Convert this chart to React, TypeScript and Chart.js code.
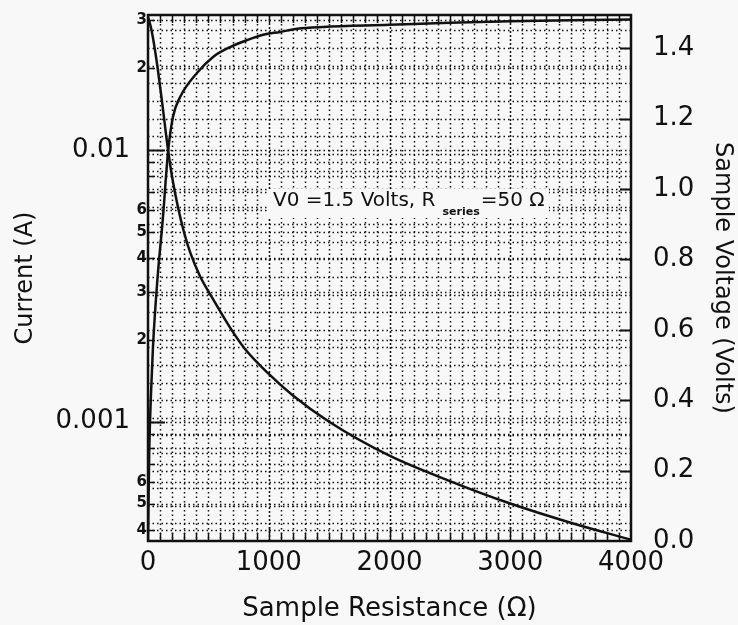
import { useEffect, useRef } from "react";
import { Chart, registerables } from "chart.js";

Chart.register(...registerables);

const FONT = "'DejaVu Sans', sans-serif";
const INK = "#111";
const PAPER = "#f8f8f8";

// Current through the sample (A) versus sample resistance (Ω)
const currentR = [0, 30, 70, 115, 166, 200, 250, 300, 350, 430, 540, 680, 800, 1000, 1200, 1500, 2000, 2500, 3000, 3500, 4000];
const currentA = [0.031, 0.0275, 0.0215, 0.0152, 0.01, 0.00794, 0.0061, 0.00495, 0.00419, 0.00344, 0.00282, 0.00222, 0.00186, 0.0015, 0.00125, 0.001, 0.00075, 0.000605, 0.0005, 0.000425, 0.000368];

// Voltage across the sample (V) versus sample resistance (Ω)
const voltageR = [0, 10, 25, 41, 75, 124, 166, 207, 266, 407, 539, 680, 822, 954, 1095, 1237, 1452, 2000, 2500, 3000, 3500, 4000];
const voltageV = [0, 0.25, 0.42, 0.55, 0.73, 0.92, 1.105, 1.205, 1.261, 1.33, 1.375, 1.403, 1.423, 1.438, 1.446, 1.455, 1.46, 1.466, 1.472, 1.476, 1.479, 1.481];

// Axis ticks
const resistanceTicks = [0, 1000, 2000, 3000, 4000];
const currentMajorTicks = [0.001, 0.01];
const currentMinorTicks = [0.0004, 0.0005, 0.0006, 0.002, 0.003, 0.004, 0.005, 0.006, 0.02, 0.03];
const voltageTicks = [0, 0.2, 0.4, 0.6, 0.8, 1.0, 1.2, 1.4];

const R_MAX = 4000;
const CURRENT_MIN = 0.000364;
const CURRENT_MAX = 0.0314;
const VOLT_MAX = 1.494;

const logSteps = (): number[] => {
  const out: number[] = [];
  for (let e = -4; e <= -2; e++) {
    for (let m = 1; m <= 9; m++) {
      const v = m * Math.pow(10, e);
      if (v > CURRENT_MIN && v < CURRENT_MAX) out.push(v);
    }
  }
  return out;
};

const paperPlugin = {
  id: "paper",
  beforeDraw(chart: any) {
    const { ctx, width, height } = chart;
    ctx.save();
    ctx.fillStyle = PAPER;
    ctx.fillRect(0, 0, width, height);
    ctx.restore();
  },
  beforeDatasetsDraw(chart: any) {
    const { ctx, chartArea, scales } = chart;
    const { left, right, top, bottom } = chartArea;
    const x = scales.x;
    const y = scales.y;
    const y2 = scales.y2;
    ctx.save();
    ctx.strokeStyle = INK;
    ctx.lineWidth = 1.5;

    // dotted vertical rulings every 100 Ω
    for (let r = 100; r < R_MAX; r += 100) {
      const px = Math.round(x.getPixelForValue(r)) + 0.5;
      ctx.setLineDash(r % 1000 === 0 ? [2, 2] : [1.5, 3]);
      ctx.beginPath();
      ctx.moveTo(px, top);
      ctx.lineTo(px, bottom);
      ctx.stroke();
    }

    // dotted horizontal rulings from both vertical scales
    const rows: number[] = [];
    logSteps().forEach((v) => rows.push(y.getPixelForValue(v)));
    for (let v = 0.05; v < VOLT_MAX; v += 0.05) rows.push(y2.getPixelForValue(v));
    ctx.setLineDash([1.5, 3]);
    rows.forEach((py) => {
      const p = Math.round(py) + 0.5;
      ctx.beginPath();
      ctx.moveTo(left, p);
      ctx.lineTo(right, p);
      ctx.stroke();
    });
    ctx.setLineDash([]);

    // note about the source conditions, on a clear patch
    ctx.fillStyle = PAPER;
    ctx.fillRect(268, 189, 281, 29);
    ctx.fillStyle = INK;
    ctx.textBaseline = "middle";
    ctx.textAlign = "left";
    ctx.font = `20px ${FONT}`;
    let tx = 273;
    const main1 = "V0 =1.5 Volts, R";
    ctx.fillText(main1, tx, 201);
    tx += ctx.measureText(main1).width + 7;
    ctx.font = `bold 11px ${FONT}`;
    const sub = "series";
    ctx.fillText(sub, tx, 212);
    tx += ctx.measureText(sub).width + 1;
    ctx.font = `20px ${FONT}`;
    ctx.fillText("=50 Ω", tx, 201);
    ctx.restore();
  },
  afterDatasetsDraw(chart: any) {
    const { ctx, chartArea, scales } = chart;
    const { left, right, top, bottom } = chartArea;
    const x = scales.x;
    const y = scales.y;
    const y2 = scales.y2;
    ctx.save();
    ctx.strokeStyle = INK;
    ctx.setLineDash([]);

    // inward tick marks along the resistance axis (bottom and top)
    ctx.lineWidth = 1.5;
    for (let r = 100; r < R_MAX; r += 100) {
      const px = Math.round(x.getPixelForValue(r)) + 0.5;
      const len = r % 1000 === 0 ? 14 : 8;
      ctx.beginPath();
      ctx.moveTo(px, bottom);
      ctx.lineTo(px, bottom - len);
      ctx.moveTo(px, top);
      ctx.lineTo(px, top + 8);
      ctx.stroke();
    }

    // current axis ticks
    logSteps().forEach((v) => {
      const py = Math.round(y.getPixelForValue(v)) + 0.5;
      const major = currentMajorTicks.some((m) => Math.abs(m - v) / m < 1e-6);
      ctx.lineWidth = major ? 2 : 1.5;
      ctx.beginPath();
      ctx.moveTo(left, py);
      ctx.lineTo(left + (major ? 17 : 7), py);
      ctx.stroke();
    });

    // voltage axis ticks
    ctx.lineWidth = 2;
    voltageTicks.forEach((v) => {
      if (v <= 0) return;
      const py = Math.round(y2.getPixelForValue(v)) + 0.5;
      ctx.beginPath();
      ctx.moveTo(right, py);
      ctx.lineTo(right - 11, py);
      ctx.stroke();
    });

    // frame
    ctx.lineWidth = 2.5;
    ctx.strokeRect(left, top, right - left, bottom - top);
    ctx.restore();
  },
};

const zeroPadding = (s: any) => {
  s.paddingTop = 0;
  s.paddingBottom = 0;
  s.paddingLeft = 0;
  s.paddingRight = 0;
};

export default function App() {
  const ref = useRef<HTMLCanvasElement>(null);

  useEffect(() => {
    document.body.style.margin = "0";
    document.body.style.background = PAPER;
    const canvas = ref.current;
    if (!canvas) return;

    const chart = new Chart(canvas, {
      type: "line",
      data: {
        datasets: [
          {
            label: "Current (A)",
            data: currentR.map((r, i) => ({ x: r, y: currentA[i] })),
            xAxisID: "x",
            yAxisID: "y",
            borderColor: INK,
            borderWidth: 2.5,
            pointRadius: 0,
            fill: false,
            cubicInterpolationMode: "monotone",
          },
          {
            label: "Sample Voltage (Volts)",
            data: voltageR.map((r, i) => ({ x: r, y: voltageV[i] })),
            xAxisID: "x",
            yAxisID: "y2",
            borderColor: INK,
            borderWidth: 2.5,
            pointRadius: 0,
            fill: false,
            cubicInterpolationMode: "monotone",
          },
        ],
      },
      options: {
        responsive: false,
        animation: false,
        devicePixelRatio: 1,
        layout: { padding: { top: 15, left: 0, right: 0, bottom: 0 } },
        plugins: {
          legend: { display: false },
          tooltip: { enabled: false },
        },
        scales: {
          x: {
            type: "linear",
            position: "bottom",
            min: 0,
            max: R_MAX,
            afterBuildTicks: (s: any) => {
              s.ticks = resistanceTicks.map((v) => ({ value: v }));
            },
            afterFit: (s: any) => {
              s.height = 84;
              zeroPadding(s);
            },
            grid: { display: false, drawTicks: false },
            border: { display: false },
            ticks: {
              color: INK,
              font: { family: FONT, size: 26 },
              padding: 7,
              maxRotation: 0,
              autoSkip: false,
              callback: (v: any) => String(v),
            },
            title: {
              display: true,
              text: "Sample Resistance (Ω)",
              color: INK,
              font: { family: FONT, size: 26 },
              padding: { top: 0, bottom: 0 },
            },
          },
          yMinor: {
            type: "logarithmic",
            position: "left",
            weight: 0,
            min: CURRENT_MIN,
            max: CURRENT_MAX,
            afterBuildTicks: (s: any) => {
              s.ticks = currentMinorTicks.map((v) => ({ value: v }));
            },
            afterFit: (s: any) => {
              s.width = 16;
              zeroPadding(s);
            },
            grid: { display: false, drawTicks: false },
            border: { display: false },
            ticks: {
              color: INK,
              font: { family: FONT, size: 15, weight: "bold" },
              padding: 1,
              autoSkip: false,
              callback: (v: any) => {
                const n = Number(v);
                const mant = n / Math.pow(10, Math.floor(Math.log10(n) + 1e-9));
                return String(Math.round(mant));
              },
            },
          },
          y: {
            type: "logarithmic",
            position: "left",
            weight: 1,
            min: CURRENT_MIN,
            max: CURRENT_MAX,
            afterBuildTicks: (s: any) => {
              s.ticks = currentMajorTicks.map((v) => ({ value: v }));
            },
            afterFit: (s: any) => {
              s.width = 132;
              zeroPadding(s);
            },
            grid: { display: false, drawTicks: false },
            border: { display: false },
            ticks: {
              color: INK,
              font: { family: FONT, size: 26 },
              padding: 2,
              autoSkip: false,
              callback: (v: any) => (Number(v) < 0.005 ? "0.001" : "0.01"),
            },
            title: {
              display: true,
              text: "Current (A)",
              color: INK,
              font: { family: FONT, size: 24 },
              padding: { top: 11, bottom: 0 },
            },
          },
          y2: {
            type: "linear",
            position: "right",
            min: 0,
            max: VOLT_MAX,
            afterBuildTicks: (s: any) => {
              s.ticks = voltageTicks.map((v) => ({ value: v }));
            },
            afterFit: (s: any) => {
              s.width = 107;
              zeroPadding(s);
            },
            grid: { display: false, drawTicks: false },
            border: { display: false },
            ticks: {
              color: INK,
              font: { family: FONT, size: 26 },
              padding: 22,
              autoSkip: false,
              callback: (v: any) => Number(v).toFixed(1),
            },
            title: {
              display: true,
              text: "Sample Voltage (Volts)",
              color: INK,
              font: { family: FONT, size: 24 },
              padding: { top: 1, bottom: 0 },
            },
          },
        },
      } as any,
      plugins: [paperPlugin],
    });

    return () => chart.destroy();
  }, []);

  return (
    <div style={{ width: 738, height: 625 }}>
      <canvas ref={ref} width={738} height={625} style={{ display: "block" }} />
    </div>
  );
}
